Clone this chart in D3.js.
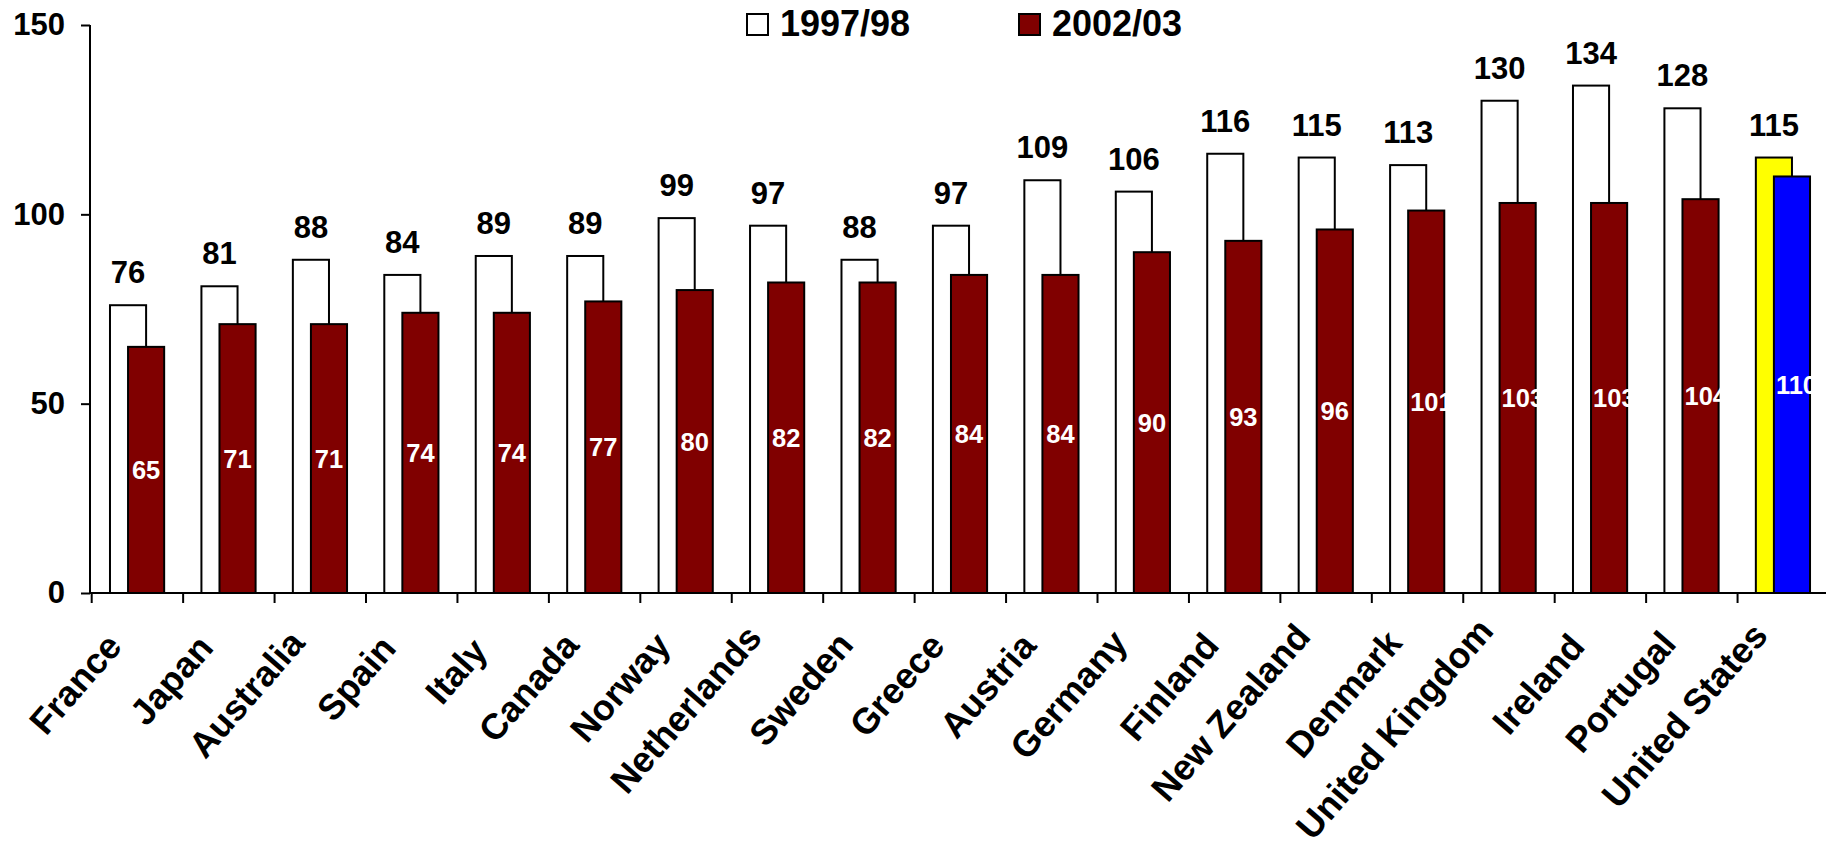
<!DOCTYPE html>
<html>
<head>
<meta charset="utf-8">
<script src="https://cdn.jsdelivr.net/npm/d3@7"></script>
<style>
  body { margin: 0; background: #fff; }
  text { font-family: "Liberation Sans", Arial, sans-serif; font-weight: bold; }
</style>
</head>
<body>
<div id="chart"></div>
<script>
// data
var countries = ["France", "Japan", "Australia", "Spain", "Italy", "Canada", "Norway",
  "Netherlands", "Sweden", "Greece", "Austria", "Germany", "Finland", "New Zealand",
  "Denmark", "United Kingdom", "Ireland", "Portugal", "United States"];
var v9798 = [76, 81, 88, 84, 89, 89, 99, 97, 88, 97, 109, 106, 116, 115, 113, 130, 134, 128, 115];
var v0203 = [65, 71, 71, 74, 74, 77, 80, 82, 82, 84, 84, 90, 93, 96, 101, 103, 103, 104, 110];
var seriesNames = ["1997/98", "2002/03"];
var yTicks = [0, 50, 100, 150];

var svgWidth = 1826;
var svgHeight = 844;

var svg = d3.select("#chart")
  .append("svg")
  .attr("width", svgWidth)
  .attr("height", svgHeight);

var xScale = d3.scaleBand()
  .domain(countries)
  .range([91.7, 1829])
  .padding(0);

var yScale = d3.scaleLinear()
  .domain([0, 150])
  .range([593, 25]);

var bw = xScale.bandwidth();
var barW = bw * 0.395;
var off1 = bw * 0.2;
var off2 = off1 + barW / 2;

// colours, the last country is highlighted
function colorOld(d, i) { return countries[i] === "United States" ? "#ffff00" : "#ffffff"; }
function colorNew(d, i) { return countries[i] === "United States" ? "#0000ff" : "#800000"; }

var rows = countries.map(function(c, i) {
  return { country: c, a: v9798[i], b: v0203[i] };
});

// white (1997/98) bars
svg.append("g").selectAll("rect")
  .data(rows)
  .enter()
  .append("rect")
  .attr("x", d => xScale(d.country) + off1)
  .attr("y", d => yScale(d.a))
  .attr("width", barW)
  .attr("height", d => yScale(0) - yScale(d.a))
  .attr("fill", colorOld)
  .attr("stroke", "#000")
  .attr("stroke-width", 2);

// maroon (2002/03) bars
svg.append("g").selectAll("rect")
  .data(rows)
  .enter()
  .append("rect")
  .attr("x", d => xScale(d.country) + off2)
  .attr("y", d => yScale(d.b))
  .attr("width", barW)
  .attr("height", d => yScale(0) - yScale(d.b))
  .attr("fill", colorNew)
  .attr("stroke", "#000")
  .attr("stroke-width", 2);

// labels above the old bars
svg.append("g").selectAll("text")
  .data(rows)
  .enter()
  .append("text")
  .attr("x", d => xScale(d.country) + off1 + barW / 2)
  .attr("y", d => yScale(d.a) - 22)
  .attr("text-anchor", "middle")
  .style("font-size", "31px")
  .attr("fill", "#000")
  .text(d => d.a);

// clip paths so wide labels get cut at the bar edge
var defs = svg.append("defs");
rows.forEach(function(d, i) {
  defs.append("clipPath")
    .attr("id", "clip" + i)
    .append("rect")
    .attr("x", xScale(d.country) + off2)
    .attr("y", yScale(d.b))
    .attr("width", barW + 2)
    .attr("height", yScale(0) - yScale(d.b));
});
// category names are cut a little below the axis
defs.append("clipPath")
  .attr("id", "clipNames")
  .append("rect")
  .attr("x", 0).attr("y", 622)
  .attr("width", svgWidth).attr("height", svgHeight - 622);

// labels inside the new bars
svg.append("g").selectAll("text")
  .data(rows)
  .enter()
  .append("text")
  .attr("clip-path", (d, i) => "url(#clip" + i + ")")
  .attr("y", d => (yScale(d.b) + yScale(0)) / 2 + 9)
  .style("font-size", "25.5px")
  .attr("fill", "#fff")
  .text(d => d.b)
  .each(function(d) {
    var w = this.getComputedTextLength();
    var left = xScale(d.country) + off2;
    var x = w > barW - 2 ? left + 2 : left + (barW - w) / 2;
    d3.select(this).attr("x", x);
  });

// y axis
var leftAxis = d3.axisLeft(yScale)
  .tickValues(yTicks)
  .tickSize(9)
  .tickPadding(16);

var yAxis = svg.append("g")
  .attr("transform", "translate(90,0)")
  .call(leftAxis);
yAxis.select(".domain").attr("stroke-width", 2).attr("d", "M0,25V593");
yAxis.selectAll(".tick line").attr("stroke-width", 2);
yAxis.selectAll(".tick text")
  .style("font-size", "31px")
  .style("font-family", "'Liberation Sans', Arial, sans-serif")
  .style("font-weight", "bold")
  .attr("fill", "#000");

// x axis line and ticks at band edges
var xAxis = svg.append("g");
xAxis.append("line")
  .attr("x1", 90).attr("x2", svgWidth)
  .attr("y1", yScale(0)).attr("y2", yScale(0))
  .attr("stroke", "#000").attr("stroke-width", 2);
xAxis.selectAll("line.tk")
  .data(countries)
  .enter()
  .append("line")
  .attr("class", "tk")
  .attr("x1", d => xScale(d)).attr("x2", d => xScale(d))
  .attr("y1", yScale(0)).attr("y2", yScale(0) + 10)
  .attr("stroke", "#000").attr("stroke-width", 2);

// rotated country names, longer names sit a little higher
xAxis.append("g")
  .attr("clip-path", "url(#clipNames)")
  .selectAll("text")
  .data(countries)
  .enter()
  .append("text")
  .attr("text-anchor", "end")
  .style("font-size", "36px")
  .attr("fill", "#000")
  .text(d => d)
  .each(function(d) {
    var len = this.getComputedTextLength();
    var px = xScale(d) + bw / 2 - 14;
    var py = 659 - 0.097 * len;
    d3.select(this).attr("transform", "translate(" + px + "," + py + ") rotate(-49)");
  });

// legend
var legendX = [747, 1019];
var legendFill = ["#ffffff", "#800000"];
var legend = svg.append("g");
seriesNames.forEach(function(name, i) {
  legend.append("rect")
    .attr("x", legendX[i]).attr("y", 14)
    .attr("width", 21).attr("height", 21)
    .attr("fill", legendFill[i])
    .attr("stroke", "#000").attr("stroke-width", 2);
  legend.append("text")
    .attr("x", legendX[i] + 33)
    .attr("y", 36)
    .style("font-size", "36px")
    .attr("fill", "#000")
    .text(name);
});
</script>
</body>
</html>
